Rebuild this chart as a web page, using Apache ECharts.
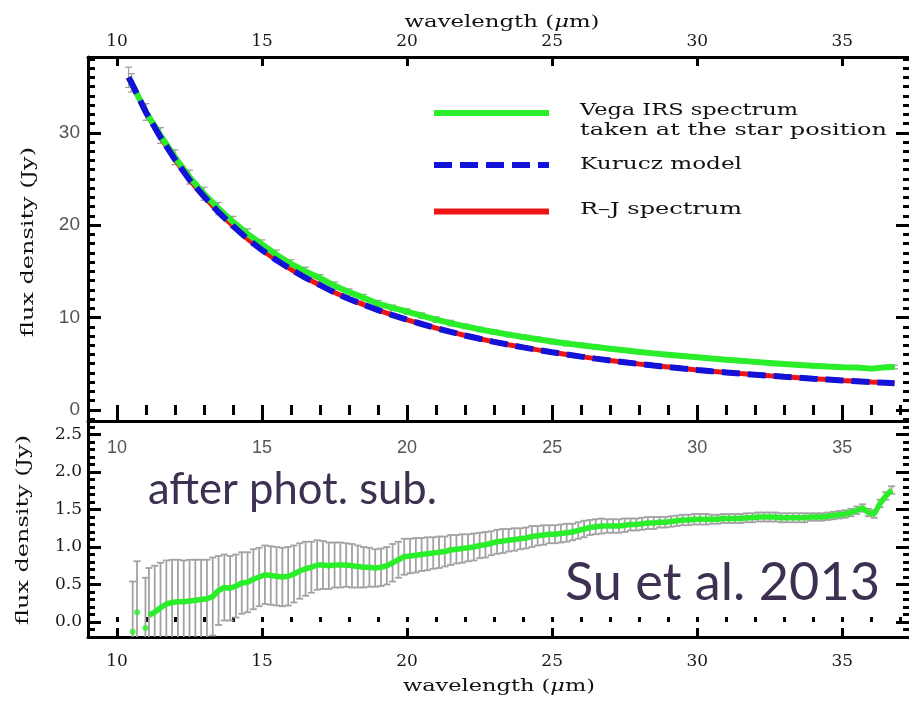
<!DOCTYPE html>
<html><head><meta charset="utf-8">
<script src="https://cdn.jsdelivr.net/npm/echarts@6/dist/echarts.min.js"></script>
<style>html,body{margin:0;padding:0;background:#fff}#c{width:909px;height:704px}</style>
</head><body><div id="c"></div>
<script>
// ---------------- data ----------------
const topWave = [10.4,10.5,11,11.5,12,12.5,13,13.5,14,14.5,15,15.5,16,16.5,17,17.5,18,18.5,19,19.5,20,20.5,21,21.5,22,22.5,23,23.5,24,24.5,25,25.5,26,26.5,27,27.5,28,28.5,29,29.5,30,30.5,31,31.5,32,32.5,33,33.5,34,34.5,35,35.5,36,36.5,36.8];
const topIRS = [36.0,35.4,32.25,29.7,27.35,25.2,23.4,21.8,20.35,19.05,17.9,16.8,15.8,15.0,14.25,13.45,12.75,12.15,11.5,11.05,10.65,10.2,9.78,9.4,9.05,8.72,8.43,8.15,7.89,7.65,7.41,7.19,7.0,6.82,6.63,6.45,6.28,6.12,5.98,5.84,5.7,5.56,5.44,5.31,5.2,5.09,4.97,4.87,4.77,4.69,4.62,4.59,4.47,4.61,4.65];
const topIRSErr = [1.1,1.0,0.9,0.85,0.8,0.75,0.7,0.65,0.6,0.55,0.5,0.5,0.45,0.45,0.4,0.4,0.35,0.35,0.35,0.3,0.3,0.3,0.3,0.3,0.25,0.25,0.25,0.25,0.25,0.25,0.25,0.25,0.25,0.25,0.2,0.2,0.2,0.2,0.2,0.2,0.2,0.2,0.2,0.2,0.2,0.2,0.2,0.2,0.2,0.2,0.2,0.2,0.2,0.2,0.2];
const topKurucz = [36.0,35.4,32.2,29.5,27.1,24.9,23.1,21.4,19.9,18.5,17.3,16.2,15.2,14.3,13.5,12.7,12.0,11.4,10.8,10.25,9.75,9.3,8.85,8.45,8.05,7.7,7.37,7.06,6.77,6.5,6.24,6.0,5.77,5.55,5.35,5.16,4.97,4.8,4.64,4.48,4.33,4.19,4.06,3.93,3.81,3.69,3.58,3.48,3.37,3.28,3.18,3.10,3.01,2.93,2.88];
const topRJ = [36.0,35.4,32.2,29.5,27.1,24.9,23.1,21.4,19.9,18.5,17.3,16.2,15.2,14.3,13.5,12.7,12.0,11.4,10.8,10.25,9.75,9.3,8.85,8.45,8.05,7.7,7.37,7.06,6.77,6.5,6.24,6.0,5.77,5.55,5.35,5.16,4.97,4.8,4.64,4.48,4.33,4.19,4.06,3.93,3.81,3.69,3.58,3.48,3.37,3.28,3.18,3.10,3.01,2.93,2.88];

const earlyWave = [10.54,10.69,10.98];
const earlyFlux = [-0.13,0.13,-0.08];
const earlyErr  = [0.67,0.68,0.67];

const bottomWave = [
 11.1,11.3,11.5,11.7,11.9,12.1,12.3,12.5,12.7,12.9,
 13.1,13.3,13.5,13.7,13.9,14.1,14.3,14.5,14.7,14.9,
 15.1,15.3,15.5,15.7,15.9,16.1,16.3,16.5,16.7,16.9,
 17.1,17.3,17.5,17.7,17.9,18.1,18.3,18.5,18.7,18.9,
 19.1,19.3,19.5,19.7,19.9,20.1,20.3,20.5,20.7,20.9,
 21.1,21.3,21.5,21.7,21.9,22.1,22.3,22.5,22.7,22.9,
 23.1,23.3,23.5,23.7,23.9,24.1,24.3,24.5,24.7,24.9,
 25.1,25.3,25.5,25.7,25.9,26.1,26.3,26.5,26.7,26.9,
 27.1,27.3,27.5,27.7,27.9,28.1,28.3,28.5,28.7,28.9,
 29.1,29.3,29.5,29.7,29.9,30.1,30.3,30.5,30.7,30.9,
 31.1,31.3,31.5,31.7,31.9,32.1,32.3,32.5,32.7,32.9,
 33.1,33.3,33.5,33.7,33.9,34.1,34.3,34.5,34.7,34.9,
 35.1,35.3,35.5,35.7,35.9,36.1,36.3,36.5,36.7];
const bottomFlux = [
 0.09,0.13,0.19,0.24,0.26,0.27,0.27,0.28,0.29,0.30,
 0.31,0.34,0.42,0.46,0.45,0.48,0.52,0.53,0.57,0.60,
 0.63,0.62,0.61,0.60,0.61,0.64,0.68,0.71,0.73,0.76,
 0.76,0.75,0.76,0.76,0.76,0.75,0.74,0.73,0.73,0.72,
 0.73,0.75,0.79,0.83,0.87,0.88,0.89,0.90,0.91,0.92,
 0.93,0.94,0.96,0.97,0.98,0.99,1.00,1.02,1.03,1.05,
 1.07,1.08,1.09,1.10,1.11,1.12,1.14,1.15,1.16,1.17,
 1.17,1.18,1.19,1.20,1.22,1.24,1.26,1.27,1.28,1.28,
 1.28,1.28,1.29,1.30,1.30,1.31,1.32,1.32,1.33,1.33,
 1.34,1.35,1.36,1.36,1.37,1.37,1.37,1.37,1.37,1.38,
 1.38,1.38,1.38,1.39,1.39,1.40,1.40,1.40,1.40,1.39,
 1.39,1.39,1.39,1.39,1.40,1.40,1.40,1.41,1.42,1.43,
 1.44,1.46,1.49,1.52,1.46,1.44,1.58,1.68,1.76];
const bottomErr = [
 0.63,0.62,0.60,0.58,0.57,0.56,0.55,0.55,0.54,0.53,
 0.52,0.52,0.46,0.44,0.43,0.42,0.41,0.40,0.40,0.39,
 0.39,0.39,0.39,0.39,0.39,0.38,0.37,0.36,0.34,0.33,
 0.32,0.31,0.30,0.30,0.29,0.29,0.28,0.27,0.26,0.25,
 0.25,0.25,0.25,0.24,0.24,0.23,0.23,0.22,0.22,0.21,
 0.21,0.20,0.20,0.19,0.19,0.18,0.18,0.17,0.17,0.16,
 0.16,0.16,0.15,0.15,0.14,0.14,0.14,0.13,0.13,0.12,
 0.12,0.12,0.12,0.11,0.11,0.11,0.10,0.10,0.10,0.09,
 0.09,0.09,0.09,0.08,0.08,0.08,0.08,0.08,0.07,0.07,
 0.07,0.07,0.07,0.07,0.07,0.07,0.07,0.06,0.06,0.06,
 0.06,0.06,0.06,0.06,0.06,0.06,0.06,0.06,0.06,0.06,
 0.06,0.06,0.06,0.06,0.05,0.05,0.05,0.05,0.05,0.05,
 0.05,0.05,0.05,0.05,0.05,0.05,0.05,0.05,0.05];

// tick labels
const xMajorTicks = [10,15,20,25,30,35];
const topYMajorTicks = [0,10,20,30];
const botYMajorTicks = [0,0.5,1.0,1.5,2.0,2.5];

// ---------------- layout / style ----------------
const X_MIN = 9, X_MAX = 37.3;
const TY_MIN = -1.2, TY_MAX = 38.2;
const BY_MIN = -0.2, BY_MAX = 2.68;
function range(a, b, step, dec) { const o = []; for (let v = a; v <= b + 1e-9; v += step) o.push(+v.toFixed(dec)); return o; }
const xMinorTicks = range(9, 37, 1, 0);
const topYMinorTicks = range(-1, 38, 1, 0);
const botYMinorTicks = range(-0.1, 2.6, 0.1, 1);

const GREEN = '#2aee2a', BLUE = '#1212d8', RED = '#ee1414', GRAY = '#a2a2a2';
const SERIF = '"DejaVu Serif", "Liberation Serif", serif';
const SANS = '"Liberation Sans", Arial, sans-serif';

function axisBase(grid, pos, min, max, extra) {
  return Object.assign({
    type: 'value', gridIndex: grid, position: pos, min: min, max: max,
    splitLine: { show: false }, axisLine: { show: false },
    axisTick: { show: false }, axisLabel: { show: false }
  }, extra);
}
const frameLine = { show: true, onZero: false, lineStyle: { color: '#000', width: 3 } };
function ticks(vals, len, w) { return { show: true, inside: true, length: len, customValues: vals, lineStyle: { color: '#000', width: w } }; }
function lab(vals, margin, family, color, extra) {
  return Object.assign({ show: true, customValues: vals, margin: margin, fontFamily: family, fontSize: 17, color: color }, extra || {});
}

const xAxes = [
  axisBase(0, 'top', X_MIN, X_MAX, { axisLine: frameLine, axisTick: ticks(xMajorTicks, 9, 3), axisLabel: lab(xMajorTicks, 7, SERIF, '#1a1a1a') }),
  axisBase(0, 'top', X_MIN, X_MAX, { axisTick: ticks(xMinorTicks, 5, 3) }),
  axisBase(0, 'bottom', X_MIN, X_MAX, { axisLine: frameLine, axisTick: ticks(xMajorTicks, 9, 3) }),
  axisBase(0, 'bottom', X_MIN, X_MAX, { axisTick: ticks(xMinorTicks, 5, 3) }),
  axisBase(1, 'top', X_MIN, X_MAX, { axisLabel: lab(xMajorTicks, 18, SANS, '#555', { inside: true, fontSize: 18 }) }),
  axisBase(1, 'bottom', X_MIN, X_MAX, { axisLine: frameLine, axisTick: ticks(xMajorTicks, 9, 3), axisLabel: lab(xMajorTicks, 16, SERIF, '#1a1a1a') }),
  axisBase(1, 'bottom', X_MIN, X_MAX, { axisTick: ticks(xMinorTicks, 5, 3) })
];
const yAxes = [
  axisBase(0, 'left', TY_MIN, TY_MAX, { axisLine: frameLine, axisTick: ticks(topYMajorTicks, 13, 3), axisLabel: lab(topYMajorTicks, 8, SANS, '#555', { fontSize: 19 }) }),
  axisBase(0, 'left', TY_MIN, TY_MAX, { axisTick: ticks(topYMinorTicks, 7, 3) }),
  axisBase(0, 'right', TY_MIN, TY_MAX, { axisTick: ticks(topYMajorTicks, 13, 3) }),
  axisBase(0, 'right', TY_MIN, TY_MAX, { axisTick: ticks(topYMinorTicks, 6, 3) }),
  axisBase(1, 'left', BY_MIN, BY_MAX, { axisLine: frameLine, axisTick: ticks(botYMajorTicks, 13, 3), axisLabel: lab(botYMajorTicks, 6, SERIF, '#1a1a1a', { formatter: v => v.toFixed(1) }) }),
  axisBase(1, 'left', BY_MIN, BY_MAX, { axisTick: ticks(botYMinorTicks, 7, 3) }),
  axisBase(1, 'right', BY_MIN, BY_MAX, { axisTick: ticks(botYMajorTicks, 13, 3) }),
  axisBase(1, 'right', BY_MIN, BY_MAX, { axisTick: ticks(botYMinorTicks, 6, 3) })
];

function makeErrRender(lw) {
  return function (params, api) {
    const x = api.value(0), lo = api.value(1), hi = api.value(2);
    const a = api.coord([x, lo]), b = api.coord([x, hi]);
    const hw = 3.5, st = { stroke: GRAY, lineWidth: lw };
    return { type: 'group', children: [
      { type: 'line', shape: { x1: a[0], y1: a[1], x2: b[0], y2: b[1] }, style: st },
      { type: 'line', shape: { x1: a[0] - hw, y1: a[1], x2: a[0] + hw, y2: a[1] }, style: st },
      { type: 'line', shape: { x1: b[0] - hw, y1: b[1], x2: b[0] + hw, y2: b[1] }, style: st }
    ]};
  };
}
const pairs = (xs, ys) => xs.map((x, i) => [x, ys[i]]);
const bars = (xs, ys, es) => xs.map((x, i) => [x, +(ys[i] - es[i]).toFixed(3), +(ys[i] + es[i]).toFixed(3)]);

const series = [
  { type: 'custom', name: 'IRS error', xAxisIndex: 0, yAxisIndex: 0, renderItem: makeErrRender(1.3), clip: true,
    encode: { x: 0, y: [1, 2] }, data: bars(topWave, topIRS, topIRSErr), z: 1 },
  { type: 'line', name: 'R-J spectrum', xAxisIndex: 0, yAxisIndex: 0, data: pairs(topWave, topRJ),
    symbol: 'none', lineStyle: { color: RED, width: 5 }, itemStyle: { color: RED }, z: 2 },
  { type: 'line', name: 'Vega IRS spectrum taken at the star position', xAxisIndex: 0, yAxisIndex: 0, data: pairs(topWave, topIRS),
    symbol: 'none', lineStyle: { color: GREEN, width: 6 }, itemStyle: { color: GREEN }, z: 3 },
  { type: 'line', name: 'Kurucz model', xAxisIndex: 0, yAxisIndex: 0, data: pairs(topWave, topKurucz),
    symbol: 'none', lineStyle: { color: BLUE, width: 6, type: [18, 8] }, itemStyle: { color: BLUE }, z: 4 },
  { type: 'custom', name: 'excess error', xAxisIndex: 5, yAxisIndex: 4, renderItem: makeErrRender(1.8), clip: true,
    encode: { x: 0, y: [1, 2] }, data: bars(bottomWave, bottomFlux, bottomErr), z: 1 },
  { type: 'custom', name: 'early error', xAxisIndex: 5, yAxisIndex: 4, renderItem: makeErrRender(1.8), clip: true,
    encode: { x: 0, y: [1, 2] }, data: bars(earlyWave, earlyFlux, earlyErr), z: 1 },
  { type: 'line', name: 'after phot. sub.', xAxisIndex: 5, yAxisIndex: 4, data: pairs(bottomWave, bottomFlux),
    symbol: 'none', lineStyle: { color: GREEN, width: 5.5 }, itemStyle: { color: GREEN }, z: 3 },
  { type: 'scatter', name: 'early points', xAxisIndex: 5, yAxisIndex: 4, data: pairs(earlyWave, earlyFlux),
    symbol: 'circle', symbolSize: 6, itemStyle: { color: GREEN }, z: 3 }
];

// ---------------- texts (titles, legend, notes) ----------------
const mctx = document.createElement('canvas').getContext('2d');
function txt(text, x, y, size, family, target, opts) {
  opts = opts || {};
  mctx.font = size + 'px ' + family;
  const plain = opts.measure || text;
  const w = mctx.measureText(plain).width;
  const s = target ? target / w : 1;
  const style = { text: text, fontSize: size, fontFamily: family, fill: opts.fill || '#111',
      align: opts.align || 'left', verticalAlign: 'middle', textAlign: opts.align || 'left', textVerticalAlign: 'middle' };
  if (opts.rich) style.rich = opts.rich;
  return { type: 'text', x: x, y: y, rotation: opts.rotation || 0, scaleX: s, z: 100, silent: true, style: style };
}
const NOTE = 'Lato, "Open Sans", sans-serif';
const muRich = { i: { fontStyle: 'italic', fontSize: 16, fontFamily: SERIF, fill: '#111' } };
const graphic = [
  txt('wavelength ({i|μ}m)', 502, 22.5, 16, SERIF, 195, { align: 'center', rich: muRich, measure: 'wavelength (μm)' }),
  txt('wavelength ({i|μ}m)', 499, 686.5, 16, SERIF, 192, { align: 'center', rich: muRich, measure: 'wavelength (μm)' }),
  txt('flux density (Jy)', 29, 242, 16, SERIF, 190, { align: 'center', rotation: Math.PI / 2 }),
  txt('flux density (Jy)', 24, 530, 16, SERIF, 190, { align: 'center', rotation: Math.PI / 2 }),
  { type: 'line', z: 100, shape: { x1: 434, y1: 113, x2: 549, y2: 113 }, style: { stroke: GREEN, lineWidth: 6 } },
  { type: 'line', z: 100, shape: { x1: 434, y1: 165, x2: 549, y2: 165 }, style: { stroke: BLUE, lineWidth: 6, lineDash: [18, 8] } },
  { type: 'line', z: 100, shape: { x1: 434, y1: 211.5, x2: 549, y2: 211.5 }, style: { stroke: RED, lineWidth: 6 } },
  txt('Vega IRS spectrum', 580, 110.5, 16, SERIF, 218),
  txt('taken at the star position', 580, 131, 16, SERIF, 307),
  txt('Kurucz model', 580, 165, 16, SERIF, 162),
  txt('R–J spectrum', 580, 209.5, 16, SERIF, 162),
  txt('after phot. sub.', 148, 490, 44, NOTE, 289, { fill: '#3d3050' }),
  txt('Su et al. 2013', 565, 582.5, 53, NOTE, 315, { fill: '#3d3050' })
];

const chart = echarts.init(document.getElementById('c'), null, { renderer: 'canvas' });
chart.setOption({
  animation: false,
  backgroundColor: '#fff',
  grid: [
    { left: 88, top: 57, width: 821, height: 364, containLabel: false, outerBoundsMode: 'none' },
    { left: 88, top: 421, width: 821, height: 216, containLabel: false, outerBoundsMode: 'none' }
  ],
  xAxis: xAxes,
  yAxis: yAxes,
  series: series,
  graphic: graphic
});
</script></body></html>
